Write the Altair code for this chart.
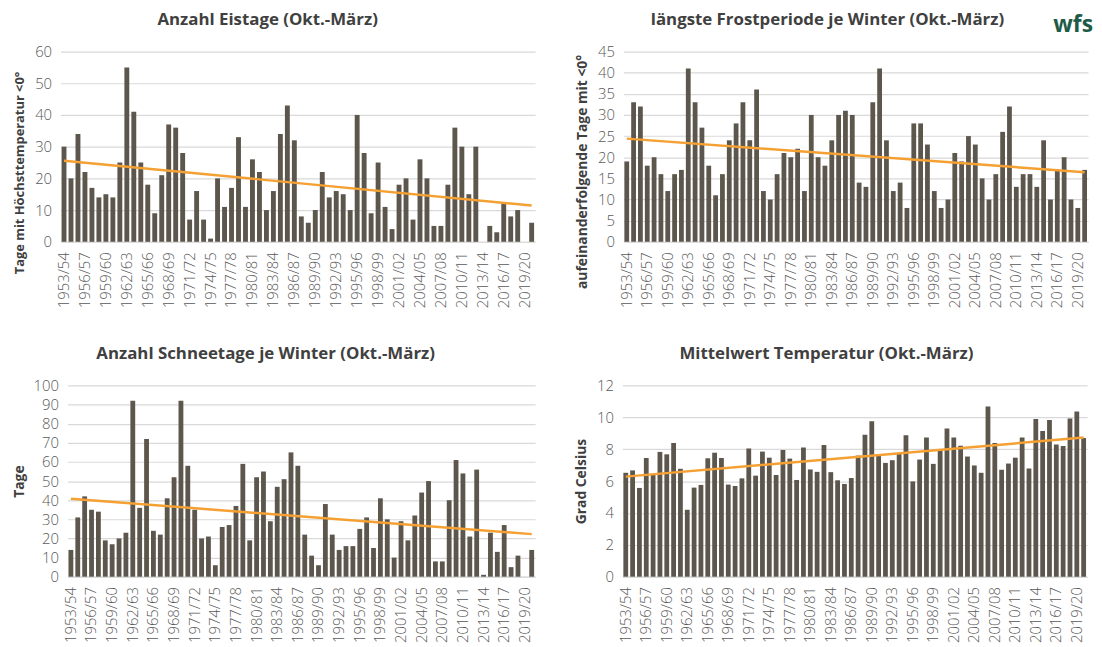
import altair as alt
import pandas as pd

# winters 1953/54 ... 2020/21
winters = [f"{y}/{str(y + 1)[-2:]}" for y in range(1953, 2021)]
shown_ticks = winters[::3]

eistage = [30, 20, 34, 22, 17, 14, 15, 14, 25, 55, 41, 25, 18, 9, 21, 37, 36, 28, 7, 16,
           7, 1, 20, 11, 17, 33, 11, 26, 22, 10, 16, 34, 43, 32, 8, 6, 10, 22, 14, 16,
           15, 10, 40, 28, 9, 25, 11, 4, 18, 20, 7, 26, 20, 5, 5, 18, 36, 30, 15, 30,
           0, 5, 3, 12, 8, 10, 0, 6]

frostperiode = [19, 33, 32, 18, 20, 16, 12, 16, 17, 41, 33, 27, 18, 11, 16, 24, 28, 33, 24, 36,
                12, 10, 16, 21, 20, 22, 12, 30, 20, 18, 24, 30, 31, 30, 14, 13, 33, 41, 24, 12,
                14, 8, 28, 28, 23, 12, 8, 10, 21, 19, 25, 23, 15, 10, 16, 26, 32, 13, 16, 16,
                13, 24, 10, 17, 20, 10, 8, 17]

schneetage = [14, 31, 42, 35, 34, 19, 17, 20, 23, 92, 36, 72, 24, 22, 41, 52, 92, 58, 35, 20,
              21, 6, 26, 27, 37, 59, 19, 52, 55, 29, 47, 51, 65, 58, 22, 11, 6, 38, 22, 14,
              16, 16, 25, 31, 15, 41, 30, 10, 29, 19, 32, 44, 50, 8, 8, 40, 61, 54, 21, 56,
              1, 23, 13, 27, 5, 11, 0, 14]

temperatur = [6.52, 6.67, 5.57, 7.45, 6.38, 7.83, 7.68, 8.39, 6.77, 4.2, 5.59, 5.76, 7.43, 7.78,
              7.45, 5.78, 5.69, 6.17, 8.05, 6.34, 7.85, 7.47, 6.38, 7.95, 7.41, 6.07, 8.1, 6.73,
              6.58, 8.26, 6.56, 6.05, 5.82, 6.19, 7.6, 8.9, 9.75, 7.58, 7.14, 7.31, 7.72, 8.88,
              5.98, 7.35, 8.74, 7.08, 7.89, 9.3, 8.74, 8.22, 7.54, 6.98, 6.52, 10.68, 8.39, 6.71,
              7.1, 7.47, 8.74, 6.79, 9.9, 9.15, 9.83, 8.3, 8.2, 9.92, 10.37, 8.7]

titles = ["Anzahl Eistage (Okt.-März)",
          "längste Frostperiode je Winter (Okt.-März)",
          "Anzahl Schneetage je Winter (Okt.-März)",
          "Mittelwert Temperatur (Okt.-März)"]
y_titles = ["Tage mit Höchsttemperatur <0°",
            "aufeinanderfolgende Tage mit <0°",
            "Tage",
            "Grad Celsius"]
logo_text = ["wfs"]

BAR = "#5C564C"
ORANGE = "#F5A033"
GRID = "#D9D9D9"
TEXT = "#404040"
LABEL = "#595959"
FONT = "Open Sans"


def panel(values, title, ytitle, ymax, ystep, width, height, title_cx,
          ytitle_x, ytitle_y, ytitle_size=14, logo=False):
    df = pd.DataFrame({"winter": winters, "idx": list(range(len(winters))), "val": values})
    base = alt.Chart(df)
    y_axis = alt.Axis(values=list(range(0, ymax + 1, ystep)), title=ytitle,
                      labelOverlap=False, titleFontSize=ytitle_size,
                      titleX=ytitle_x, titleY=ytitle_y,
                      titleAlign="center", titleBaseline="bottom", titleAngle=270)
    y_scale = alt.Scale(domain=[0, ymax], nice=False)
    bars = base.mark_bar(color=BAR).encode(
        x=alt.X("winter:N", sort=winters,
                scale=alt.Scale(paddingInner=0.3, paddingOuter=0.15),
                axis=alt.Axis(values=shown_ticks, labelAngle=-90, title=None,
                              labelOverlap=False)),
        y=alt.Y("val:Q", scale=y_scale, axis=y_axis),
    )
    trend = base.transform_regression("idx", "val").mark_line(
        color=ORANGE, strokeWidth=2.5
    ).encode(
        x=alt.X("idx:Q", scale=alt.Scale(domain=[-0.5, len(winters) - 0.5], nice=False, zero=False),
                axis=None),
        y=alt.Y("val:Q", scale=y_scale, axis=y_axis),
    )
    head = alt.Chart(pd.DataFrame({"t": [title]})).mark_text(
        font=FONT, fontSize=17, fontWeight="bold", color=TEXT,
        baseline="middle", align="center"
    ).encode(text="t:N", x=alt.value(title_cx), y=alt.value(-32))
    layers = [bars, trend, head]
    if logo:
        layers.append(
            alt.Chart(pd.DataFrame({"t": logo_text})).mark_text(
                font=FONT, fontSize=23, fontWeight="bold", color="#1E5B47",
                baseline="middle", align="center"
            ).encode(text="t:N", x=alt.value(width - 15), y=alt.value(-27))
        )
    return alt.layer(*layers).resolve_scale(x="independent").properties(
        width=width, height=height)


def spacer():
    return alt.Chart(pd.DataFrame({"a": [0]})).mark_point(opacity=0, size=1).encode(
        x=alt.value(0), y=alt.value(0)
    ).properties(width=1, height=1)


p1 = panel(eistage, titles[0], y_titles[0], 60, 10, 479, 192, 209, -34, 122, ytitle_size=13)
p2 = panel(frostperiode, titles[1], y_titles[1], 45, 5, 469, 192, 206, -34, 121, logo=True)
p3 = panel(schneetage, titles[2], y_titles[2], 100, 10, 472, 193, 200, -41, 96.5)
p4 = panel(temperatur, titles[3], y_titles[3], 12, 2, 469, 193, 206, -34, 96.5)

row1 = alt.hconcat(alt.hconcat(spacer(), p1, spacing=0), p2, spacing=38)
row2 = alt.hconcat(alt.hconcat(spacer(), p3, spacing=0), p4, spacing=38)

chart = alt.vconcat(row1, row2, spacing=37).properties(
    padding={"left": 3, "top": 0, "right": 0, "bottom": 0}
).configure_view(stroke=None).configure_axis(
    labelFont=FONT, labelFontSize=15, labelFontWeight=300, labelColor=LABEL,
    titleFont=FONT, titleFontSize=14, titleFontWeight="bold", titleColor=TEXT,
    gridColor=GRID, gridWidth=1.2, ticks=False,
).configure_axisX(
    grid=False, domainColor=GRID, domainWidth=1.2, labelPadding=10,
).configure_axisY(
    domain=False, labelPadding=9,
)

chart.save("out.html", embed_options={"renderer": "svg", "actions": False})
